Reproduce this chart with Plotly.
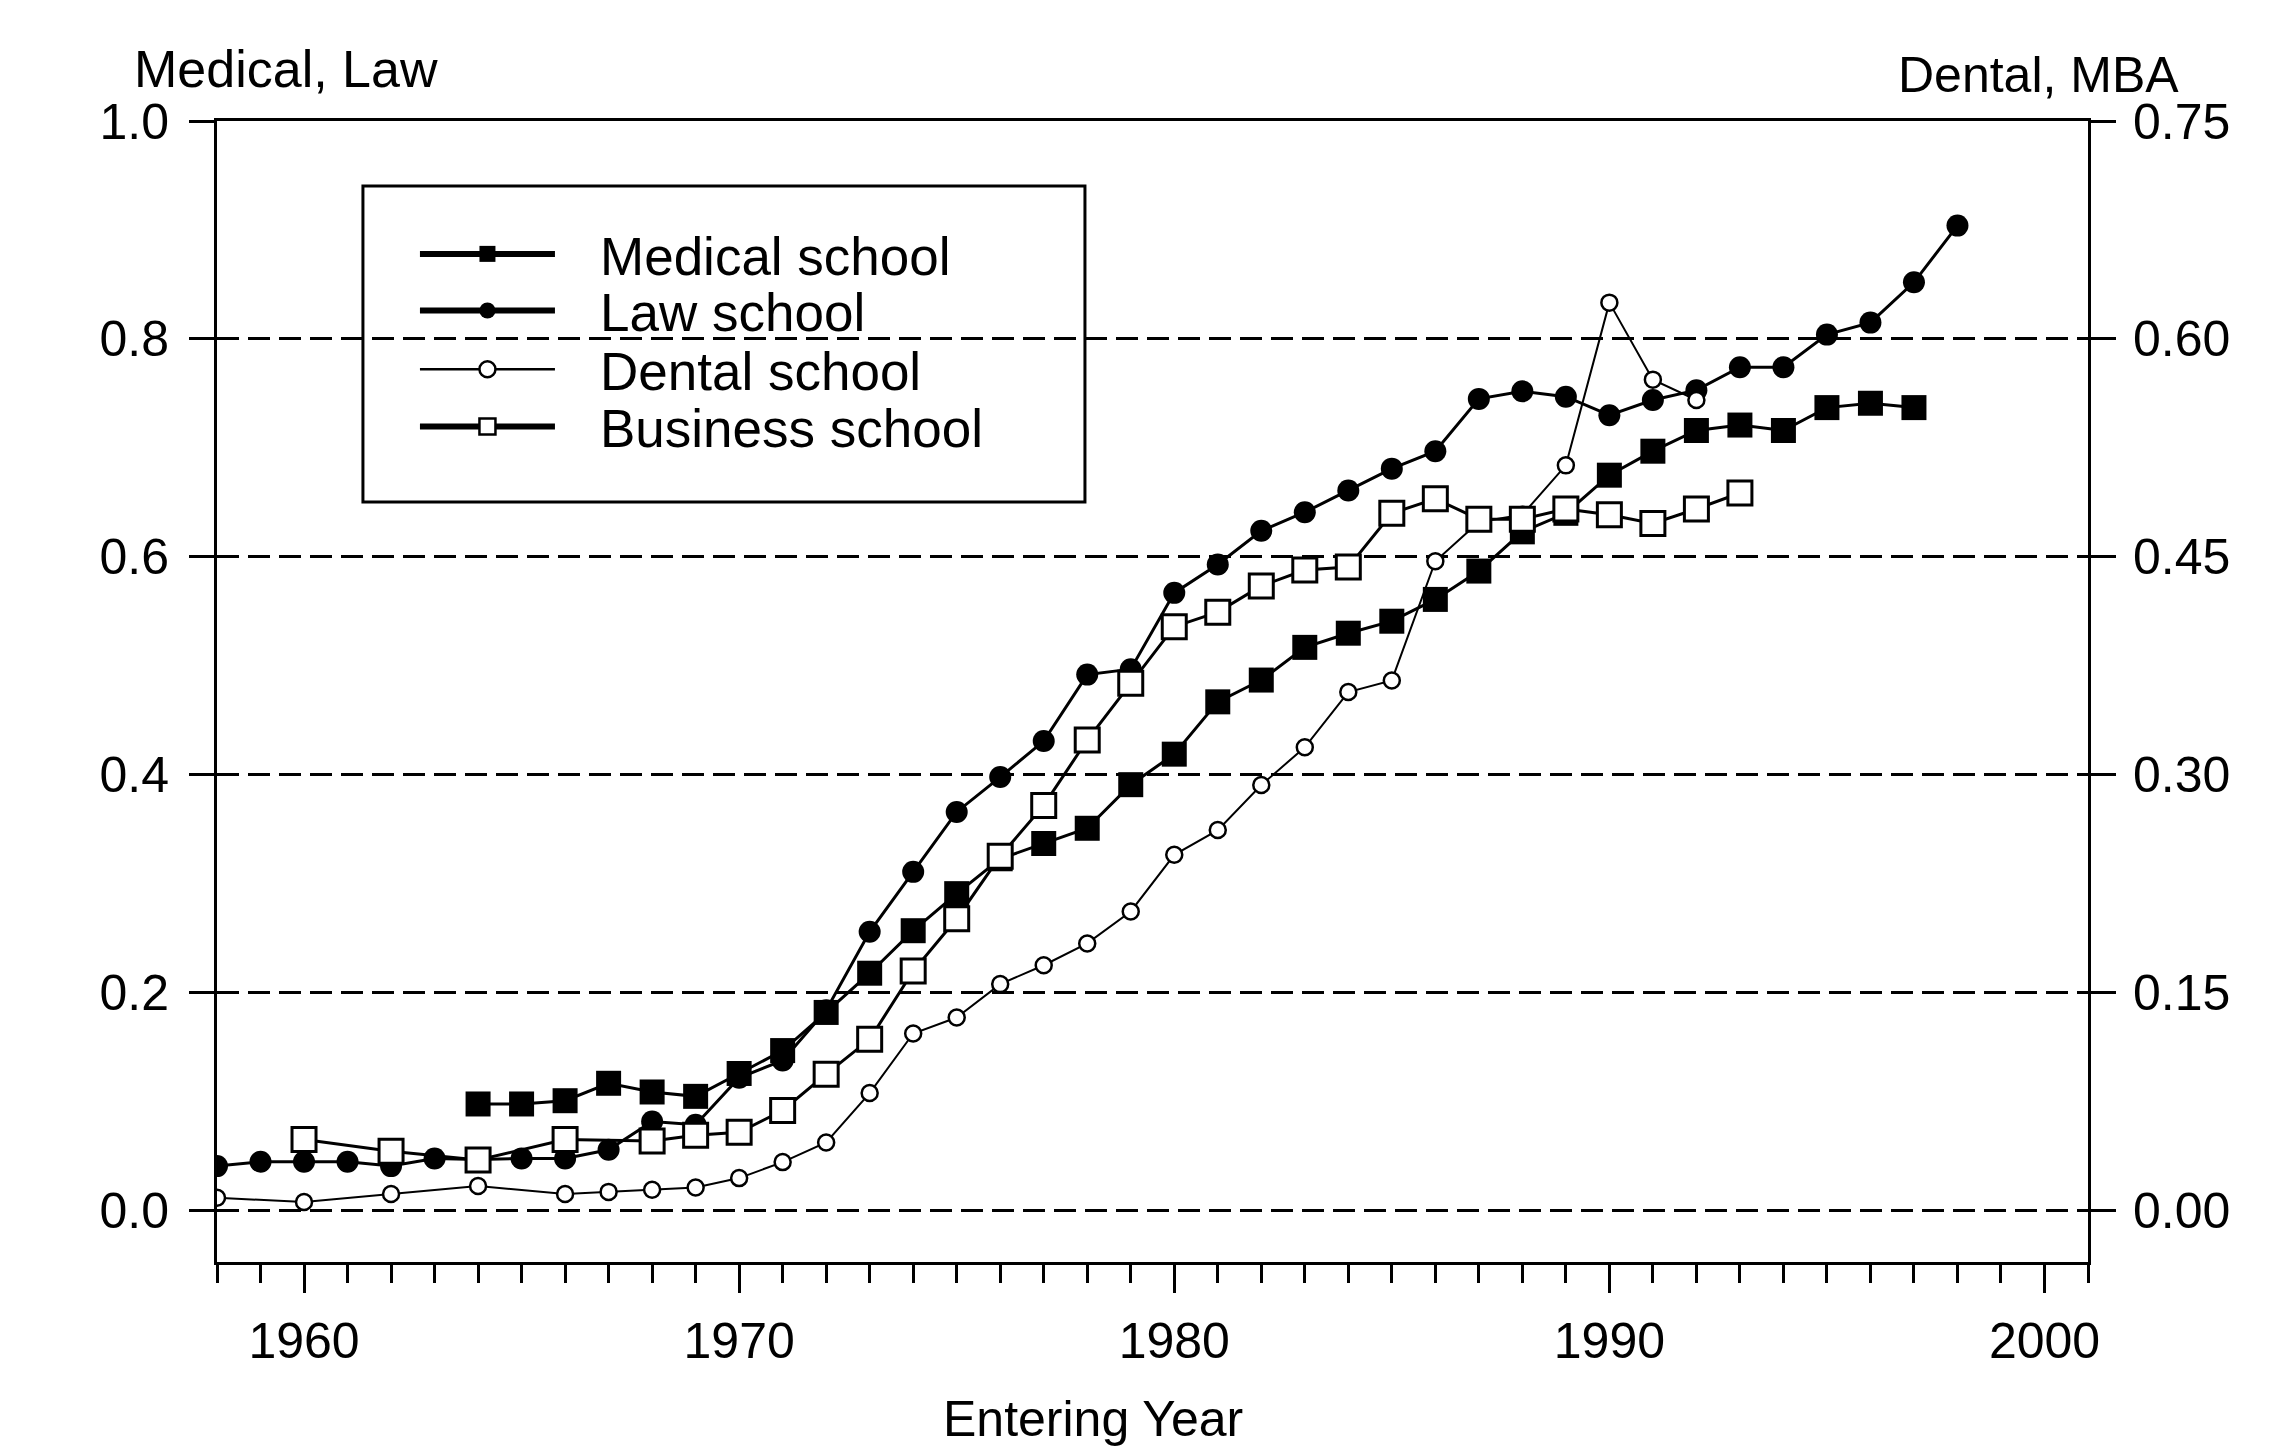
import plotly.graph_objects as go

# ---------------- data ----------------
law_years = list(range(1958, 1999))
law_share = [0.041, 0.045, 0.045, 0.045, 0.041, 0.048, 0.047, 0.048, 0.048, 0.056,
             0.082, 0.079, 0.122, 0.138, 0.184, 0.256, 0.311, 0.366, 0.398, 0.431,
             0.492, 0.497, 0.567, 0.593, 0.624, 0.641, 0.661, 0.681, 0.697, 0.745,
             0.752, 0.747, 0.730, 0.744, 0.753, 0.774, 0.774, 0.804, 0.815, 0.852,
             0.904]

med_years = list(range(1964, 1998))
med_share = [0.098, 0.098, 0.101, 0.117, 0.109, 0.105, 0.126, 0.147, 0.182, 0.218,
             0.257, 0.291, 0.323, 0.337, 0.351, 0.391, 0.419, 0.467, 0.487, 0.517,
             0.530, 0.541, 0.561, 0.587, 0.623, 0.640, 0.675, 0.697, 0.716, 0.721,
             0.716, 0.737, 0.741, 0.737]

dent_years = [1958, 1960, 1962, 1964, 1966] + list(range(1967, 1993))
dent_share = [0.009, 0.006, 0.0115, 0.017, 0.0115, 0.013, 0.0145, 0.016, 0.0225, 0.0335,
              0.047, 0.081, 0.122, 0.133, 0.156, 0.169, 0.184, 0.206, 0.245, 0.262,
              0.293, 0.319, 0.357, 0.365, 0.447, 0.474, 0.479, 0.513, 0.625, 0.572,
              0.558]

bus_years = [1960, 1962, 1964, 1966] + list(range(1968, 1994))
bus_share = [0.049, 0.041, 0.035, 0.049, 0.048, 0.052, 0.054, 0.069, 0.094, 0.118,
             0.165, 0.201, 0.244, 0.279, 0.324, 0.363, 0.402, 0.412, 0.430, 0.441,
             0.443, 0.480, 0.490, 0.476, 0.476, 0.483, 0.479, 0.473, 0.483, 0.494]

left_ticks = [0.0, 0.2, 0.4, 0.6, 0.8, 1.0]
left_labels = ["0.0", "0.2", "0.4", "0.6", "0.8", "1.0"]
right_ticks = [0.0, 0.15, 0.30, 0.45, 0.60, 0.75]
right_labels = ["0.00", "0.15", "0.30", "0.45", "0.60", "0.75"]
x_ticks = [1960, 1970, 1980, 1990, 2000]

series_names = ["Medical school", "Law school", "Dental school", "Business school"]

FONT = "Liberation Sans, Arial, sans-serif"
BLACK = "#000000"
PAD = "\u00a0\u00a0\u2009"

fig = go.Figure()

# ---- data traces (drawing order: dental, law, medical, business) ----
fig.add_trace(go.Scatter(
    x=dent_years, y=dent_share, name=series_names[2], yaxis="y2",
    mode="lines+markers", showlegend=False,
    line=dict(color=BLACK, width=2),
    marker=dict(symbol="circle", size=16, color="white", line=dict(color=BLACK, width=2.5)),
))
fig.add_trace(go.Scatter(
    x=law_years, y=law_share, name=series_names[1], yaxis="y",
    mode="lines+markers", showlegend=False,
    line=dict(color=BLACK, width=3),
    marker=dict(symbol="circle", size=22, color=BLACK, line=dict(color=BLACK, width=0)),
))
fig.add_trace(go.Scatter(
    x=med_years, y=med_share, name=series_names[0], yaxis="y",
    mode="lines+markers", showlegend=False,
    line=dict(color=BLACK, width=3),
    marker=dict(symbol="square", size=25, color=BLACK, line=dict(color=BLACK, width=0)),
))
fig.add_trace(go.Scatter(
    x=bus_years, y=bus_share, name=series_names[3], yaxis="y2",
    mode="lines+markers", showlegend=False,
    line=dict(color=BLACK, width=3),
    marker=dict(symbol="square", size=24, color="white", line=dict(color=BLACK, width=3)),
))

# ---- legend entries (one legend each so the row spacing matches) ----
legend_styles = [
    dict(symbol="square", color=BLACK, lw=6, mlw=0),
    dict(symbol="circle", color=BLACK, lw=6, mlw=0),
    dict(symbol="circle", color="white", lw=2.5, mlw=2.5),
    dict(symbol="square", color="white", lw=6, mlw=2.5),
]
legend_ids = ["legend", "legend2", "legend3", "legend4"]
legend_y = [0.8835, 0.8339, 0.7824, 0.7322]
for nm, st, lid in zip(series_names, legend_styles, legend_ids):
    fig.add_trace(go.Scatter(
        x=[None], y=[None], name=PAD + nm, mode="lines+markers",
        showlegend=True, legend=lid, hoverinfo="skip",
        line=dict(color=BLACK, width=st["lw"]),
        marker=dict(symbol=st["symbol"], size=16, color=st["color"],
                    line=dict(color=BLACK, width=st["mlw"])),
    ))

legend_common = dict(
    x=0.1058, xanchor="left", yanchor="middle",
    bgcolor="rgba(0,0,0,0)", borderwidth=0,
    font=dict(family=FONT, size=53, color=BLACK),
    itemwidth=135,
)

axis_font = dict(family=FONT, size=50, color=BLACK)

fig.update_layout(
    width=2287, height=1446,
    paper_bgcolor="white", plot_bgcolor="white",
    margin=dict(l=209, r=207, t=113, b=192, pad=0),
    font=dict(family=FONT, color=BLACK),
    showlegend=True,
    legend=dict(y=legend_y[0], **legend_common),
    legend2=dict(y=legend_y[1], **legend_common),
    legend3=dict(y=legend_y[2], **legend_common),
    legend4=dict(y=legend_y[3], **legend_common),
    xaxis=dict(
        range=[1958, 2001], tickvals=x_ticks, ticktext=[str(v) for v in x_ticks],
        showgrid=False, zeroline=False,
        showline=True, linecolor=BLACK, linewidth=3, mirror=True,
        ticks="outside", ticklen=28, tickwidth=3, tickcolor=BLACK,
        ticklabelstandoff=5,
        minor=dict(dtick=1, tick0=1958, ticks="outside", ticklen=18, tickwidth=2.5,
                   tickcolor=BLACK, showgrid=False),
        tickfont=axis_font,
    ),
    yaxis=dict(
        range=[-0.047, 1.0], tickvals=left_ticks, ticktext=left_labels,
        showgrid=True, gridcolor=BLACK, gridwidth=2.5, griddash="22px,9px",
        zeroline=False,
        showline=True, linecolor=BLACK, linewidth=3,
        ticks="outside", ticklen=25, tickwidth=3, tickcolor=BLACK,
        ticklabelstandoff=10,
        tickfont=axis_font,
    ),
    yaxis2=dict(
        range=[-0.03525, 0.75], tickvals=right_ticks, ticktext=right_labels,
        overlaying="y", side="right",
        showgrid=False, zeroline=False,
        showline=True, linecolor=BLACK, linewidth=3,
        ticks="outside", ticklen=25, tickwidth=3, tickcolor=BLACK,
        ticklabelstandoff=7,
        tickfont=axis_font,
    ),
    shapes=[dict(
        type="rect", xref="paper", yref="paper",
        x0=0.0780, x1=0.4639, y0=0.6661, y1=0.9430,
        line=dict(color=BLACK, width=3), fillcolor="rgba(0,0,0,0)", layer="above",
    )],
    annotations=[
        dict(text="Medical, Law", xref="paper", yref="paper",
             x=-0.0454, y=1.0456, xanchor="left", yanchor="middle",
             showarrow=False, font=dict(family=FONT, size=52, color=BLACK)),
        dict(text="Dental, MBA", xref="paper", yref="paper",
             x=1.0497, y=1.0405, xanchor="right", yanchor="middle",
             showarrow=False, font=dict(family=FONT, size=50, color=BLACK)),
        dict(text="Entering Year", xref="paper", yref="paper",
             x=0.468, y=-0.1376, xanchor="center", yanchor="middle",
             showarrow=False, font=dict(family=FONT, size=50, color=BLACK)),
    ],
)

fig.write_html("out.html")
